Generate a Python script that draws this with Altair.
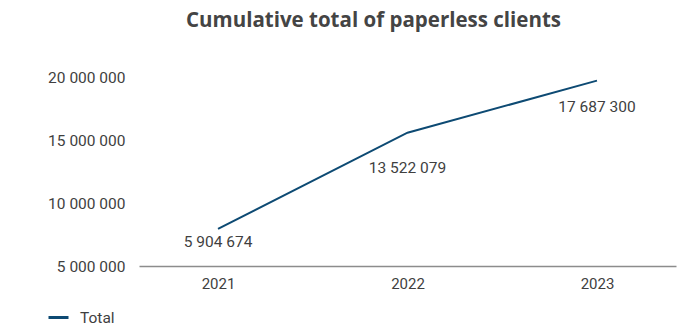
import altair as alt
import pandas as pd

years = ["2021", "2022", "2023"]
line_values = [7940000, 15580000, 19710000]
value_labels = ["5 904 674", "13 522 079", "17 687 300"]
series = ["Total", "Total", "Total"]
y_ticks = [5000000, 10000000, 15000000, 20000000]

df = pd.DataFrame({"year": years, "value": line_values, "label": value_labels, "series": series})

FONT = "Roboto"
TXT = "#3f3f3f"
BLUE = "#0d4a73"

x_enc = alt.X("year:O", scale=alt.Scale(type="point", padding=0.417),
              axis=alt.Axis(title=None, labelAngle=0, ticks=False, domainColor="#8c8c8c",
                            domainWidth=1.5, labelFontSize=15, labelColor=TXT,
                            labelPadding=10, labelFont=FONT))
y_enc = alt.Y("value:Q", scale=alt.Scale(domain=[5000000, 20000000], nice=False, zero=False),
              axis=alt.Axis(title=None, values=y_ticks, grid=False, domain=False, ticks=False,
                            labelFontSize=15.5, labelColor=TXT, labelPadding=14, labelFont=FONT,
                            labelExpr="replace(format(datum.value, ','), regexp(',', 'g'), ' ')"))

line = alt.Chart(df).mark_line(strokeWidth=2).encode(
    x=x_enc, y=y_enc,
    color=alt.Color("series:N", scale=alt.Scale(range=[BLUE]),
                    legend=alt.Legend(title=None, orient="none", legendX=-92, legendY=229,
                                      symbolType="stroke", symbolStrokeWidth=3, symbolSize=400,
                                      labelOffset=10,
                                      labelFontSize=15.5, labelColor=TXT, labelFont=FONT))
)

offsets = [13, 35, 26]
texts = []
for yr, off in zip(years, offsets):
    texts.append(
        alt.Chart(df).transform_filter(alt.datum.year == yr)
        .mark_text(dy=off, fontSize=15.5, color=TXT, font=FONT, baseline="middle")
        .encode(x="year:O", y="value:Q", text="label:N")
    )

chart = alt.layer(line, *texts).properties(
    width=537, height=189,
    padding={"left": 139, "top": 77, "right": 18, "bottom": 64},
    autosize=alt.AutoSizeParams(type="none"),
    title=alt.TitleParams("Cumulative total of paperless clients", fontSize=20.5, font="Open Sans",
                          fontWeight="bold", color="#444444", anchor="middle", dx=-34, offset=39),
).configure(background="white").configure_view(stroke=None, strokeWidth=0)

chart.save("out.html", embed_options={"renderer": "svg", "actions": False})
